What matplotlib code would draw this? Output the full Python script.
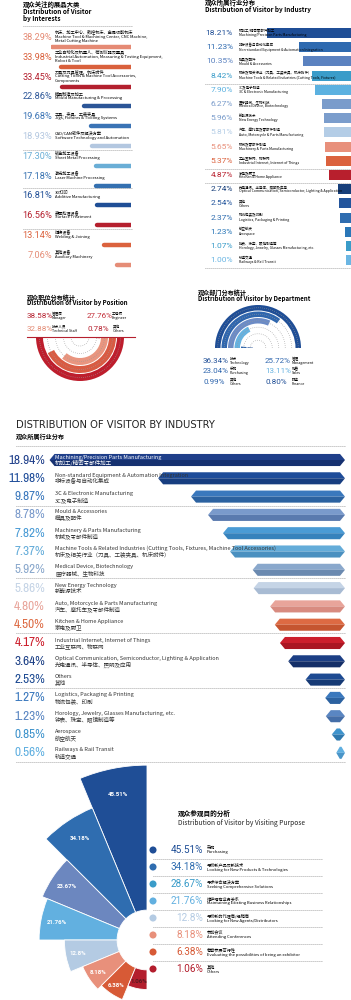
import numpy as np
import matplotlib
matplotlib.use("Agg")
import matplotlib.pyplot as plt
from matplotlib import font_manager

plt.rcParams['font.family'] = ['Noto Sans CJK SC', 'DejaVu Sans']

W, H = 351, 1000

# --- DATA ---
interest_pct = [38.29, 33.98, 33.45, 22.86, 19.68, 18.93, 17.30, 17.18, 16.81, 16.56, 13.14, 7.06]
interest_labels = [
    "机床、加工中心、数控机床、金属切削机床\nMachine Tool & Machining Center, CNC Machine,\nMetal Cutting Machine",
    "工业自动化及机器人、检测仪器及量具\nIndustrial Automation, Measuring & Testing Equipment,\nRobot & Tool",
    "刀具及刀具管理、机床附件\nCutting Tools & Machine Tool Accessories,\nComponents",
    "模具制造及加工\nMould Manufacturing & Processing",
    "工具、夹具、工装夹具\nJigs, Fixtures & Tooling Systems",
    "CAD/CAM软件及解决方案\nSoftware Technology and Automation",
    "钣金加工设备\nSheet Metal Processing",
    "激光加工设备\nLaser Machine Processing",
    "3D打印\nAdditive Manufacturing",
    "表面处理设备\nSurface Treatment",
    "焊接设备\nWelding & Joining",
    "其他设备\nAuxiliary Machinery",
]
interest_colors = ["#E58A74", "#D9603C", "#B3202E", "#2B5597", "#3A73B5", "#B3C7E0",
                   "#6AAED6", "#3470B0", "#1F4E96", "#B5202E", "#DB623E", "#E58D77"]

ind_small_pct = [18.21, 11.23, 10.35, 8.42, 7.90, 6.27, 5.96, 5.81, 5.65, 5.37, 4.87,
                 2.74, 2.54, 2.37, 1.23, 1.07, 1.00]
ind_small_labels = [
    "机加工/精密零部件加工\nMachining/Precision Parts Manufacturing",
    "非标设备与自动化集成\nNon-standard Equipment & Automation Integration",
    "模具及配件\nMould & Accessories",
    "机床及相关行业（刀具、工装夹具、机床附件）\nMachine Tools & Related Industries (Cutting Tools, Fixtures)",
    "3C及电子制造\n3C & Electronic Manufacturing",
    "医疗器械、生物科技\nMedical Device, Biotechnology",
    "新能源技术\nNew Energy Technology",
    "汽车、摩托车及零部件制造\nAuto, Motorcycle & Parts Manufacturing",
    "机械及零部件制造\nMachinery & Parts Manufacturing",
    "工业互联网、物联网\nIndustrial Internet, Internet of Things",
    "家电及厨卫\nKitchen & Home Appliance",
    "光电通讯、半导体、照明及应用\nOptical Communication, Semiconductor, Lighting & Application",
    "其他\nOthers",
    "物流包装及印刷\nLogistics, Packaging & Printing",
    "航空航天\nAerospace",
    "钟表、珠宝、眼镜制造等\nHorology, Jewelry, Glasses Manufacturing, etc.",
    "轨道交通\nRailways & Rail Transit",
]
ind_small_colors = ["#1F4E96", "#2E6AB0", "#5B82C0", "#3A9CC9", "#5BB1E0", "#7A9CCB",
                    "#7B9DCC", "#B4CDE6", "#E8907B", "#DB623E", "#B81F2D", "#173F7A",
                    "#23559C", "#2F6DB0", "#2A77B8", "#3A9CC9", "#6BB6E3"]

position_pct = [38.58, 32.88, 27.76, 0.78]
position_ring_colors = ["#BE1E2D", "#D95B43", "#E9957F", "#B5202E"]
position_legend = [("38.58%", "管理层\nManager", "#B5202E"),
                   ("27.76%", "工程师\nEngineer", "#C3303A"),
                   ("32.88%", "技术人员\nTechnical Staff", "#E38A73"),
                   ("0.78%", "其他\nOthers", "#B5202E")]

dept_pct = [36.34, 25.72, 23.04, 13.11, 0.99, 0.80]
dept_ring_colors = ["#1F4E96", "#2F66AE", "#6B8BC6", "#66B2E0", "#2F66AE", "#1F4E96"]
dept_legend = [("36.34%", "技术\nTechnology", "#1F4E96"),
               ("25.72%", "管理\nManagement", "#2F66AE"),
               ("23.04%", "采购\nPurchasing", "#2F66AE"),
               ("13.11%", "销售\nSales", "#66B2E0"),
               ("0.99%", "其他\nOthers", "#2F66AE"),
               ("0.80%", "财务\nFinance", "#1F4E96")]

industry_pct = [18.94, 11.98, 9.87, 8.78, 7.82, 7.37, 5.92, 5.86, 4.80, 4.50, 4.17,
                3.64, 2.53, 1.27, 1.23, 0.85, 0.56]
industry_en = [
    "Machining/Precision Parts Manufacturing",
    "Non-standard Equipment & Automation Integration",
    "3C & Electronic Manufacturing",
    "Mould & Accessories",
    "Machinery & Parts Manufacturing",
    "Machine Tools & Related Industries (Cutting Tools, Fixtures, Machine Tool Accessories)",
    "Medical Device, Biotechnology",
    "New Energy Technology",
    "Auto, Motorcycle & Parts Manufacturing",
    "Kitchen & Home Appliance",
    "Industrial Internet, Internet of Things",
    "Optical Communication, Semiconductor, Lighting & Application",
    "Others",
    "Logistics, Packaging & Printing",
    "Horology, Jewelry, Glasses Manufacturing, etc.",
    "Aerospace",
    "Railways & Rail Transit",
]
industry_zh = ["机加工/精密零部件加工", "非标设备与自动化集成", "3C及电子制造", "模具及配件",
               "机械及零部件制造", "机床及相关行业（刀具、工装夹具、机床附件）", "医疗器械、生物科技",
               "新能源技术", "汽车、摩托车及零部件制造", "家电及厨卫", "工业互联网、物联网",
               "光电通讯、半导体、照明及应用", "其他", "物流包装、印刷", "钟表、珠宝、眼镜制造等",
               "航空航天", "轨道交通"]
industry_top = ["#1F3F8A", "#1E4C99", "#3A78BD", "#7A9ACB", "#4A9BD5", "#64ACD9", "#8AA8CC",
                "#C5D4E6", "#E8A49A", "#DD6A43", "#CC1F2C", "#1C3F85", "#1D4A92", "#3A78BD",
                "#5A86C2", "#3E93CC", "#5FAFE0"]
industry_bot = ["#163170", "#173E80", "#2C62A0", "#5A7AAE", "#3682BC", "#4A90C0", "#6B8AB0",
                "#A8BBD3", "#D88B80", "#C55530", "#AA1622", "#142F68", "#163A75", "#2C62A0",
                "#456EA8", "#2E78AE", "#4A95C8"]

purpose_pct = [45.51, 34.18, 23.67, 21.76, 12.8, 8.18, 6.38, 1.06]
purpose_legend_pct = ["45.51%", "34.18%", "28.67%", "21.76%", "12.8%", "8.18%", "6.38%", "1.06%"]
purpose_labels = [
    "采购\nPurchasing",
    "寻找新产品及新技术\nLooking for New Products & Technologies",
    "寻求综合解决方案\nSeeking Comprehensive Solutions",
    "维护现有业务关系\nMaintaining Existing Business Relationships",
    "寻找新的代理商/经销商\nLooking for New Agents/Distributors",
    "参加会议\nAttending Conferences",
    "考察参展可行性\nEvaluating the possibilities of being an exhibitor",
    "其他\nOthers",
]
purpose_colors = ["#1F4E96", "#2F6DB0", "#6C87BF", "#62B0E0", "#B4CBE3", "#E8907B", "#D75A36", "#B31E2D"]
purpose_dot_colors = ["#1F4E96", "#2F6DB0", "#3A9CC9", "#62B0E0", "#B4CBE3", "#E8907B", "#D75A36", "#B31E2D"]

# --- FONTS ---
names = sorted({f.name for f in font_manager.fontManager.ttflist})
NUM = 'Roboto' if 'Roboto' in names else 'DejaVu Sans'
narrow = [n for n in names if 'Narrow' in n or 'Condensed' in n]
NARROW = narrow[0] if narrow else None

fig = plt.figure(figsize=(W / 100, H / 100), dpi=100)


def px_axes(l, t, w, h, **kw):
    ax = fig.add_axes([l / W, 1 - (t + h) / H, w / W, h / H], **kw)
    ax.axis('off')
    return ax


ov = px_axes(0, 0, W, H)
ov.set_xlim(0, W)
ov.set_ylim(H, 0)
ov.set_zorder(10)


def dots(x0, x1, y, color="#8a8a8a"):
    ov.plot([x0, x1], [y, y], ls=(0, (1, 1.4)), color=color, lw=0.6)


# ---------- Panel 1: interests ----------
ov.text(23, 4, "观众关注的展品大类", fontsize=4.6, fontweight='bold', va='center')
ov.text(23, 11, "Distribution of Visitor", fontsize=4.6, fontweight='bold', va='center')
ov.text(23, 19, "by Interests", fontsize=4.6, fontweight='bold', va='center')
for y in [26, 150, 188, 229]:
    dots(23, 133, y)

n1, t0, dy1 = len(interest_pct), 37.5, 19.8
ax1 = px_axes(51, t0 + 9.5 - dy1 / 2, 80, n1 * dy1)
ax1.set_xlim(39, 0)
ax1.set_ylim(n1 - 0.5, -0.5)
ax1.hlines(range(n1), 0, interest_pct, colors=interest_colors, lw=3.2, capstyle='round')
for i, (v, lab, c) in enumerate(zip(interest_pct, interest_labels, interest_colors)):
    y = t0 + i * dy1
    ov.text(52, y, f"{v:.2f}%", ha='right', va='center', color=c, fontsize=6.6, family=NUM)
    ov.text(55, y - 1, lab, va='center', fontsize=3.0, linespacing=1.15)

# ---------- Panel 2: industry (small) ----------
ov.text(205, 3, "观众所属行业分布", fontsize=4.6, fontweight='bold', va='center')
ov.text(205, 9.5, "Distribution of Visitor by Industry", fontsize=4.6, fontweight='bold', va='center')
for y in [84, 169, 183, 268]:
    dots(205, 350, y)

n2, r0, dy2 = len(ind_small_pct), 33, 14.2
ax2 = px_axes(259, r0 - dy2 / 2, 92, n2 * dy2)
ax2.set_xlim(20, 0)
ax2.set_ylim(n2 - 0.5, -0.5)
ax2.barh(range(n2), ind_small_pct, height=0.7, color=ind_small_colors)
for i, (v, lab, c) in enumerate(zip(ind_small_pct, ind_small_labels, ind_small_colors)):
    y = r0 + i * dy2
    ov.text(233, y, f"{v:.2f}%", ha='right', va='center', color=c, fontsize=6.0, family=NUM)
    ov.text(239, y, lab, va='center', fontsize=2.5, linespacing=1.15)

# ---------- Panel 3: position ----------
ov.text(27, 297.5, "观众职位分布统计", fontsize=4.4, fontweight='bold', va='center')
ov.text(27, 303, "Distribution of Visitor by Position", fontsize=4.4, fontweight='bold', va='center')
for (pct, lab, c), (x, y) in zip(position_legend, [(27, 316), (87, 316), (27, 329), (88, 329)]):
    ov.text(x, y, pct, va='center', color=c, fontsize=5.8, family=NUM)
    ov.text(x + 25, y, lab, va='center', fontsize=2.6, linespacing=1.1)
ov.plot([27, 135], [337, 337], color="#B5202E", lw=0.8)

ax3 = px_axes(80 - 46, 337 - 46, 92, 92, projection='polar')
ax3.set_ylim(0, 46)
th = np.linspace(np.pi, 2 * np.pi, 120)
for i, (v, c) in enumerate(zip(position_pct, position_ring_colors)):
    bottom = 37 - i * 8
    ax3.plot(th, np.full_like(th, bottom + 3.5), ls=(0, (1, 2)), color="#9a9a9a", lw=0.5)
    span = v / max(position_pct) * np.pi
    ax3.bar(2 * np.pi - span, 7, width=span, bottom=bottom, align='edge', color=c)
ax3.plot(th, np.full_like(th, 9), ls=(0, (1, 2)), color="#9a9a9a", lw=0.5)

# ---------- Panel 4: department ----------
ov.text(198, 292, "观众部门分布统计", fontsize=4.4, fontweight='bold', va='center')
ov.text(198, 299, "Distribution of Visitor by Department", fontsize=4.4, fontweight='bold', va='center')
ax4 = px_axes(258 - 45, 348 - 45, 90, 90, projection='polar')
ax4.set_ylim(0, 45)
th = np.linspace(0, np.pi, 120)
for i, (v, c) in enumerate(zip(dept_pct, dept_ring_colors)):
    bottom = 37.5 - i * 6.5
    ax4.plot(th, np.full_like(th, bottom + 2.75), ls=(0, (1, 2)), color="#9a9a9a", lw=0.5)
    span = v / max(dept_pct) * np.pi
    ax4.bar(np.pi - span, 5.5, width=span, bottom=bottom, align='edge', color=c)
for (pct, lab, c), (x, y) in zip(dept_legend, [(203, 361), (265, 361), (203, 371),
                                              (265, 371), (203, 382), (265, 382)]):
    ov.text(x, y, pct, va='center', color=c, fontsize=5.8, family=NUM)
    ov.text(x + 27, y, lab, va='center', fontsize=2.6, linespacing=1.1)

# ---------- Panel 5: industry (large) ----------
ov.text(16, 425, "DISTRIBUTION OF VISITOR BY INDUSTRY", fontsize=7.2, va='center',
        family='DejaVu Sans', color="#222222")
ov.text(16, 436, "观众所属行业分布", fontsize=4.4, fontweight='bold', va='center')
for y in [446, 506, 578, 633, 688, 762]:
    dots(16, 345, y)

n5, r5, dy5 = len(industry_pct), 460, 18.3
ax5 = px_axes(33, r5 - dy5 / 2, 312, n5 * dy5)
ax5.set_xlim(20, 0)
ax5.set_ylim(n5 - 0.5, -0.5)
hh = 0.33
for i, v in enumerate(industry_pct):
    d = min(0.32, v * 0.4)
    ax5.fill([v, v - d, d, 0], [i, i - hh, i - hh, i], color=industry_top[i], lw=0)
    ax5.fill([v, v - d, d, 0], [i, i + hh, i + hh, i], color=industry_bot[i], lw=0)
if NARROW:
    pct_font = dict(family=NARROW, fontsize=9.5, fontweight='light')
else:
    pct_font = dict(family=NUM, fontsize=7.6, fontweight='light')
for i, (v, en, zh) in enumerate(zip(industry_pct, industry_en, industry_zh)):
    y = r5 + i * dy5
    ov.text(45, y, f"{v:.2f}%", ha='right', va='center', color=industry_top[i], **pct_font)
    tc = 'white' if i == 0 else '#333333'
    ov.text(55, y - 3, en, va='center', fontsize=4.0, color=tc)
    ov.text(55, y + 3.3, zh, va='center', fontsize=4.0, color=tc)

# ---------- Panel 6: visiting purpose ----------
K, OFF, HOLE = 2.82, 16.5, 10.6
R_PX = 182
ax6 = px_axes(147 - R_PX, 940 - R_PX, 2 * R_PX, 2 * R_PX, projection='polar')
ax6.set_ylim(0, R_PX / K)
step = np.pi / len(purpose_pct)
theta = np.pi / 2 + step * (np.arange(len(purpose_pct)) + 0.5)
heights = np.array(purpose_pct) + OFF - HOLE
ax6.bar(theta, heights, width=step, bottom=HOLE, color=purpose_colors,
        edgecolor='white', linewidth=0.6)
for t, v in zip(theta, purpose_pct):
    r = 0.85 * (v + OFF)
    col = 'white' if v > 2 else '#5a1a20'
    ax6.text(t, r, f"{v:g}%", ha='center', va='center', color=col, fontsize=4.4,
             fontweight='bold', family=NUM)

ov.text(178, 813, "观众参观目的分析", fontsize=4.8, fontweight='bold', va='center')
ov.text(178, 823, "Distribution of Visitor by Visiting Purpose", fontsize=4.8, va='center',
        color="#222222")
ry = [850 + i * 17 for i in range(len(purpose_pct))]
ov.scatter([153] * len(ry), ry, s=26, c=purpose_dot_colors, lw=0)
for i, (y, pct, lab) in enumerate(zip(ry, purpose_legend_pct, purpose_labels)):
    ov.text(203, y, pct, ha='right', va='center', color=purpose_dot_colors[i], fontsize=7.2, family=NUM)
    ov.text(207, y, lab, va='center', fontsize=3.0, linespacing=1.15)
    if i < len(ry) - 1:
        dots(153, 322, y + 8.5)

fig.savefig('out.png', dpi=100)
